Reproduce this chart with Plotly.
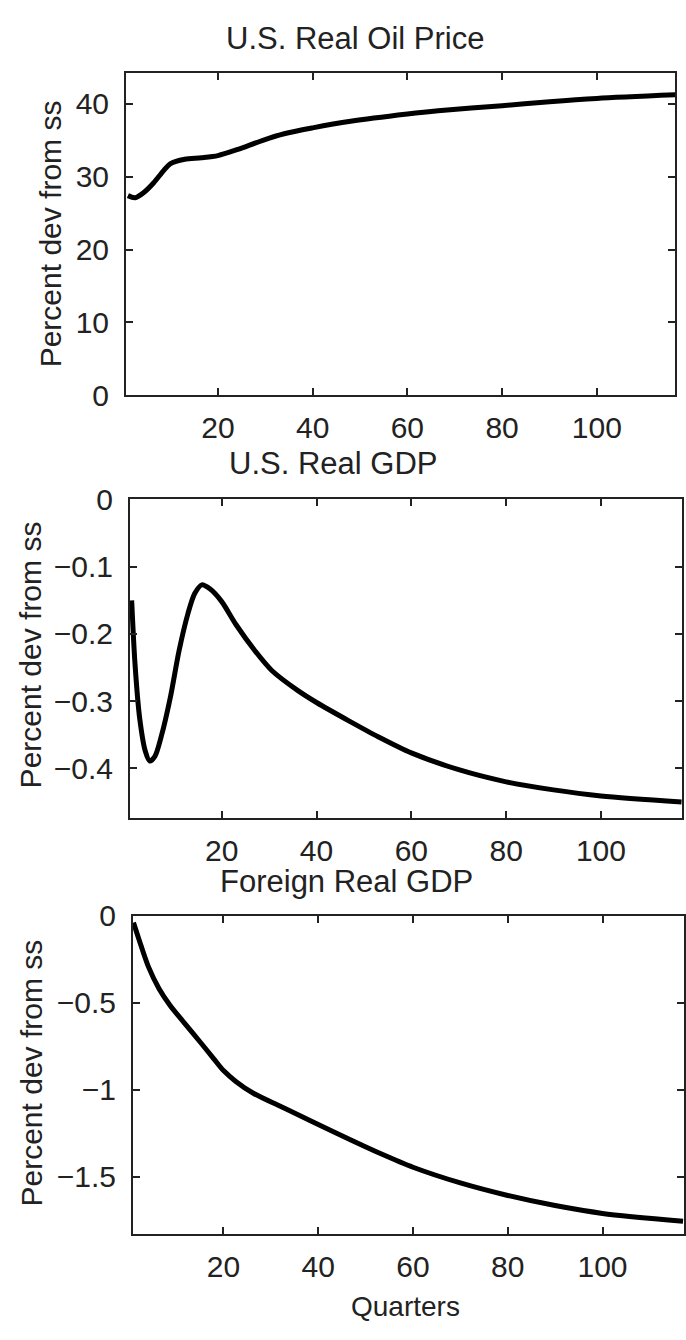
import plotly.graph_objects as go

W, H = 686, 1340

# ---- data ----
q_oil = [1, 2.5, 4.5, 6.5, 8.5, 10, 13, 16.5, 20, 24, 29.5, 34, 40, 48, 60, 66.5, 80, 90, 100, 117]
oil = [27.4, 27.1, 27.9, 29.2, 30.8, 31.8, 32.4, 32.6, 32.9, 33.7, 35.0, 35.9, 36.7, 37.6, 38.6, 39.05, 39.75, 40.3, 40.75, 41.25]

q_us = [1, 1.7, 2.7, 3.9, 4.8, 5.9, 7.3, 9.2, 11, 12.9, 14.3, 15.8, 17.5, 20, 23, 27, 30.5, 36, 40, 47, 53, 60, 70, 80, 90, 100, 117]
us_gdp = [-0.15, -0.244, -0.326, -0.375, -0.389, -0.382, -0.351, -0.293, -0.225, -0.169, -0.140, -0.127, -0.133,
          -0.152, -0.186, -0.225, -0.254, -0.284, -0.302, -0.330, -0.353, -0.377, -0.402, -0.420, -0.432, -0.441, -0.450]

q_for = [1, 2.2, 4.1, 6.4, 8.7, 11.5, 15.2, 18, 20, 22.6, 26.3, 32, 36.5, 40, 47, 53, 60, 70, 80, 90, 100, 117]
for_gdp = [-0.04, -0.14, -0.29, -0.42, -0.515, -0.609, -0.730, -0.824, -0.89, -0.952, -1.02, -1.095, -1.153, -1.20,
           -1.29, -1.365, -1.445, -1.535, -1.607, -1.665, -1.71, -1.755]

titles = ["U.S. Real Oil Price", "U.S. Real GDP", "Foreign Real GDP"]
ylabel = "Percent dev from ss"
xlabel = "Quarters"
x_ticks = [20, 40, 60, 80, 100]
y_ticks = [[0, 10, 20, 30, 40], [0, -0.1, -0.2, -0.3, -0.4], [0, -0.5, -1, -1.5]]

# ---- layout geometry (pixels) ----
panels = [
    dict(l=126, r=675, t=57, b=388, xr=[0.6, 116.5], yr=[0, 44.3]),
    dict(l=130, r=682, t=495, b=822, xr=[0.65, 117.1], yr=[-0.474, 0]),
    dict(l=133, r=684, t=922, b=1249, xr=[0.9, 117.2], yr=[-1.83, 0]),
]
title_pos = [(355, 22), (333, 458), (346, 887)]
ylabel_pos = [(50, 223), (30, 655), (31, 1084)]

TXT = "#222222"
FONT = "Liberation Sans, Arial, Helvetica, sans-serif"

fig = go.Figure()
series = [(q_oil, oil), (q_us, us_gdp), (q_for, for_gdp)]
for i, (xs, ys) in enumerate(series):
    n = "" if i == 0 else str(i + 1)
    fig.add_trace(go.Scatter(x=xs, y=ys, mode="lines", xaxis="x" + n, yaxis="y" + n,
                             line=dict(color="black", width=5, shape="spline", smoothing=0.8),
                             showlegend=False, hoverinfo="skip"))

layout = dict(width=W, height=H, margin=dict(l=0, r=0, t=0, b=0),
              paper_bgcolor="white", plot_bgcolor="white",
              font=dict(family=FONT, size=30, color=TXT), showlegend=False)

for i, p in enumerate(panels):
    n = "" if i == 0 else str(i + 1)
    common = dict(showline=True, linecolor=TXT, linewidth=2, mirror="ticks", ticks="inside",
                  ticklen=7, tickwidth=1.5, tickcolor=TXT, showgrid=False, zeroline=False,
                  tickfont=dict(family=FONT, size=30, color=TXT))
    layout["xaxis" + n] = dict(domain=[p["l"] / W, p["r"] / W], range=p["xr"], anchor="y" + n,
                               tickvals=x_ticks, ticklabelstandoff=5, **common)
    layout["yaxis" + n] = dict(domain=[1 - p["b"] / H, 1 - p["t"] / H], range=p["yr"], anchor="x" + n,
                               tickvals=y_ticks[i], ticklabelstandoff=9, **common)

fig.update_layout(**layout)

for i in range(3):
    tx, ty = title_pos[i]
    fig.add_annotation(text=titles[i], x=tx / W, y=1 - ty / H, xref="paper", yref="paper",
                       xanchor="center", yanchor="middle", showarrow=False,
                       font=dict(family=FONT, size=31, color=TXT))
    lx, ly = ylabel_pos[i]
    fig.add_annotation(text=ylabel, x=lx / W, y=1 - ly / H, xref="paper", yref="paper",
                       xanchor="center", yanchor="middle", textangle=-90, showarrow=False,
                       font=dict(family=FONT, size=30, color=TXT))

fig.add_annotation(text=xlabel, x=405 / W, y=1 - 1323 / H, xref="paper", yref="paper",
                   xanchor="center", yanchor="middle", showarrow=False,
                   font=dict(family=FONT, size=28, color=TXT))

fig.write_html("out.html")
